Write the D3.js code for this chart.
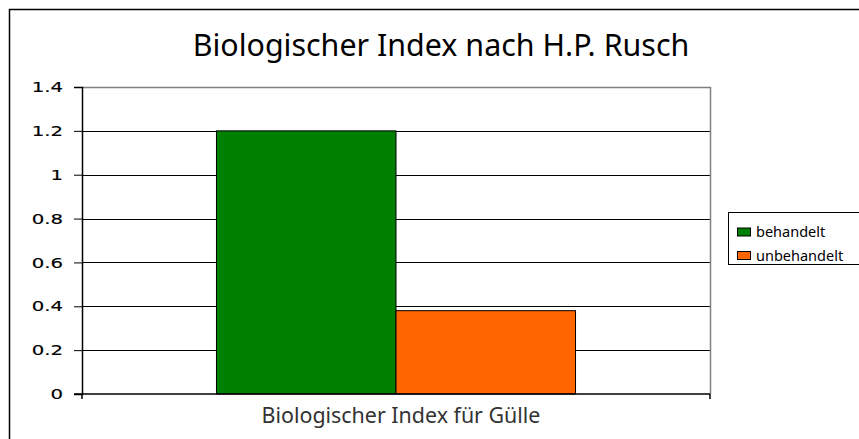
<!DOCTYPE html>
<html><head><meta charset="utf-8">
<script src="https://cdn.jsdelivr.net/npm/d3@7"></script>
<style>body{margin:0;background:#fff}svg{display:block}</style>
</head><body>
<svg id="c" width="859" height="439"></svg>
<script>
const title = "Biologischer Index nach H.P. Rusch";
const categories = ["Biologischer Index für Gülle"];
const seriesNames = ["behandelt", "unbehandelt"];
const seriesColors = ["#008000", "#ff6600"];
const behandelt = [1.2];
const unbehandelt = [0.38];
const yTicks = [0, 0.2, 0.4, 0.6, 0.8, 1, 1.2, 1.4];

const svg = d3.select("#c");
const W = 859, H = 439;
const m = {left: 82, right: 710, top: 87, bottom: 394};

svg.append("rect").attr("x", 9.5).attr("y", 9.5).attr("width", W + 20).attr("height", H + 20)
  .attr("fill", "#fff").attr("stroke", "#000").attr("stroke-width", 1.5);

const y = d3.scaleLinear().domain([0, 1.4]).range([m.bottom, m.top]);
const x0 = d3.scaleBand().domain(categories).range([m.left, m.right]).paddingInner(0).paddingOuter(0);
const x1 = d3.scaleBand().domain(seriesNames).range([0, x0.bandwidth()]).paddingInner(0).paddingOuter(0.749);

// grid lines
svg.append("g").selectAll("line").data(yTicks.filter(d => d > 0 && d < 1.4)).join("line")
  .attr("x1", m.left).attr("x2", m.right)
  .attr("y1", d => Math.round(y(d)) + 0.5).attr("y2", d => Math.round(y(d)) + 0.5)
  .attr("stroke", "#000").attr("stroke-width", 1);

// plot border top/right
svg.append("path")
  .attr("d", `M${m.left},${Math.round(y(1.4)) + 0.5}H${m.right + 0.5}V${m.bottom}`)
  .attr("fill", "none").attr("stroke", "#808080").attr("stroke-width", 1.5);

// bars
const data = [];
categories.forEach((c, i) => {
  data.push({cat: c, s: seriesNames[0], v: behandelt[i], col: seriesColors[0]});
  data.push({cat: c, s: seriesNames[1], v: unbehandelt[i], col: seriesColors[1]});
});
svg.append("g").selectAll("rect").data(data).join("rect")
  .attr("x", d => x0(d.cat) + x1(d.s))
  .attr("y", d => y(d.v))
  .attr("width", x1.bandwidth())
  .attr("height", d => m.bottom - y(d.v))
  .attr("fill", d => d.col).attr("stroke", "#000").attr("stroke-width", 1);

// y axis
const yAxis = d3.axisLeft(y).tickValues(yTicks).tickSize(8).tickPadding(11)
  .tickFormat(d => d3.format("")(+d.toFixed(1)));
const ga = svg.append("g").attr("transform", `translate(${m.left},0)`).call(yAxis);
ga.select(".domain").attr("stroke", "#000").attr("stroke-width", 1.5);
ga.selectAll(".tick line").attr("stroke", "#000").attr("stroke-width", 1);
ga.selectAll(".tick text").attr("font-family", "DejaVu Sans, Verdana, sans-serif")
  .attr("font-size", 14.5).attr("fill", "#000").attr("stroke", "#000").attr("stroke-width", 0.15)
  .each(function() {
    const w = this.getComputedTextLength();
    d3.select(this).attr("textLength", w * 1.36).attr("lengthAdjust", "spacingAndGlyphs");
  });

// x axis
const xAxis = d3.axisBottom(x0).tickSize(0).tickPadding(14);
const gx = svg.append("g").attr("transform", `translate(0,${m.bottom})`).call(xAxis);
gx.select(".domain").remove();
const xt = gx.selectAll(".tick text").attr("font-family", "Noto Sans, Open Sans, sans-serif")
  .attr("font-size", 20).attr("fill", "#333").attr("dy", 0).attr("y", 28.5).attr("x", 5);
xt.each(function() {
  const w = this.getComputedTextLength();
  d3.select(this).attr("font-size", 20 * 279 / w);
});
svg.append("line").attr("x1", m.left - 8).attr("x2", m.right).attr("y1", m.bottom).attr("y2", m.bottom)
  .attr("stroke", "#000").attr("stroke-width", 1.5);
svg.append("g").selectAll("line").data([m.left, m.right]).join("line")
  .attr("x1", d => d).attr("x2", d => d).attr("y1", m.bottom).attr("y2", m.bottom + 5)
  .attr("stroke", "#000").attr("stroke-width", 1.5);

// title
const t = svg.append("text").attr("x", 441).attr("y", 56).attr("text-anchor", "middle")
  .attr("font-family", "Noto Sans, Open Sans, sans-serif").attr("font-size", 26).attr("fill", "#000")
  .text(title);
const tw = t.node().getComputedTextLength();
t.attr("font-size", 26 * 497 / tw);

// legend
const lg = svg.append("g");
lg.append("rect").attr("x", 728.5).attr("y", 212.5).attr("width", 140).attr("height", 52)
  .attr("fill", "#fff").attr("stroke", "#000").attr("stroke-width", 1);
seriesNames.forEach((s, i) => {
  const yy = 228 + i * 23.5;
  lg.append("rect").attr("x", 737.5).attr("y", yy).attr("width", 13).attr("height", 8)
    .attr("fill", seriesColors[i]).attr("stroke", "#000").attr("stroke-width", 1);
  lg.append("text").attr("x", 756).attr("y", yy + 9).attr("font-family", "Noto Sans, Open Sans, sans-serif")
    .attr("font-size", 14.5).attr("fill", "#000").text(s);
});
</script>
</body></html>
